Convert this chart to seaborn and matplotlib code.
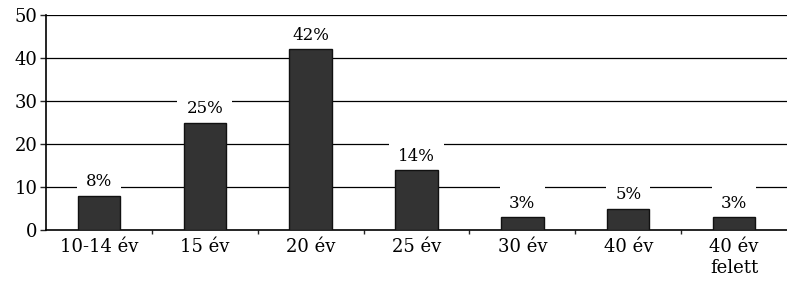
import matplotlib
matplotlib.use("Agg")
import matplotlib.pyplot as plt
import seaborn as sns
import pandas as pd

categories = ["10-14 év", "15 év", "20 év", "25 év", "30 év", "40 év", "40 év\nfelett"]
values = [8, 25, 42, 14, 3, 5, 3]
labels = ["8%", "25%", "42%", "14%", "3%", "5%", "3%"]

sns.set_theme(style="white")
plt.rcParams['font.family'] = ['DejaVu Serif']

df = pd.DataFrame({"kat": categories, "ertek": values})

fig = plt.figure(figsize=(7.87, 2.83), dpi=100)
ax = fig.add_axes([46 / 787, 1 - 230 / 283, 741 / 787, 215 / 283])

sns.barplot(data=df, x="kat", y="ertek", color="#333333", width=0.4,
            edgecolor="#111111", linewidth=1, saturation=1, ax=ax, zorder=3)

# horizontal gridlines
for g in [10, 20, 30, 40, 50]:
    ax.axhline(g, color="black", linewidth=0.9, zorder=1)

# percent labels, white box hides the gridline behind them (kept under the bars)
for i, (v, lab) in enumerate(zip(values, labels)):
    ax.text(i, v + 1.2, lab, ha="center", va="bottom", fontsize=12, color="black",
            zorder=2, bbox={"facecolor": "white", "edgecolor": "none",
                            "boxstyle": "square,pad=0.55"})

ax.set_ylim(0, 50)
ax.set_xlim(-0.5, 6.5)
ax.set_yticks([0, 10, 20, 30, 40, 50])
ax.set_xlabel("")
ax.set_ylabel("")
ax.tick_params(axis="y", labelsize=13, length=4, width=1, direction="out",
               left=True, pad=2, labelcolor="black")
ax.tick_params(axis="x", labelsize=13, length=0, pad=6, labelcolor="black")
ax.set_xticks([i + 0.5 for i in range(6)], minor=True)
ax.tick_params(axis="x", which="minor", length=3, width=1, bottom=True, direction="out")

for s in ["top", "right"]:
    ax.spines[s].set_visible(False)
ax.spines["left"].set_color("black")
ax.spines["bottom"].set_color("black")
ax.spines["left"].set_linewidth(1.2)
ax.spines["bottom"].set_linewidth(1.2)

fig.savefig("out.png", dpi=100)
